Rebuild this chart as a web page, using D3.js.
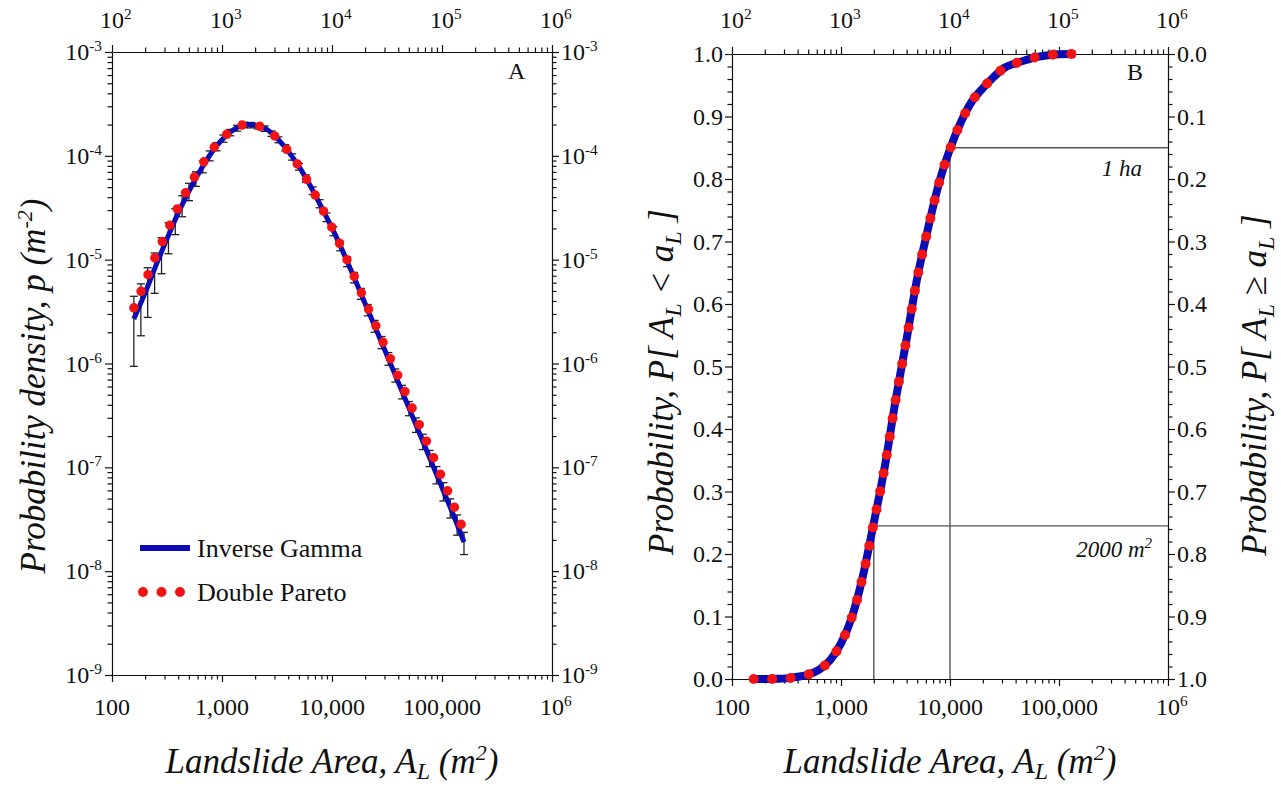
<!DOCTYPE html>
<html>
<head>
<meta charset="utf-8">
<script src="https://cdn.jsdelivr.net/npm/d3@7"></script>
<style>
  body { margin: 0; background: #fff; }
  svg text { font-family: "Liberation Serif", "Times New Roman", serif; fill: #111; }
  .axis .domain, .axis .tick line { stroke: #111; stroke-width: 1.2; }
</style>
</head>
<body>
<svg id="chart" width="1281" height="790"></svg>
<script>
// ---- Panel A: probability density of landslide area ----
const curveArea = [158, 200, 251, 316, 398, 501, 631, 794, 1000, 1259, 1585, 1995, 2512, 3162, 3981,
  5012, 6310, 7943, 10000, 12589, 15849, 19953, 25119, 31623, 39811, 50119, 63096, 79433, 100000, 125893, 158489];

const densityInverseGamma = [2.69e-6, 4.79e-6, 8.81e-6, 1.585e-5, 2.79e-5, 4.57e-5, 7.16e-5, 1.054e-4, 1.429e-4,
  1.770e-4, 1.986e-4, 1.972e-4, 1.816e-4, 1.479e-4, 1.114e-4, 7.87e-5, 5.20e-5, 3.27e-5, 2.02e-5, 1.189e-5,
  6.76e-6, 3.80e-6, 2.14e-6, 1.202e-6, 6.68e-7, 3.72e-7, 2.07e-7, 1.148e-7, 6.38e-8, 3.55e-8, 1.905e-8];

const densityDoublePareto = [3.44e-6, 6.12e-6, 1.102e-5, 1.871e-5, 3.18e-5, 5.07e-5, 7.67e-5, 1.104e-4, 1.466e-4,
  1.786e-4, 2.000e-4, 1.972e-4, 1.816e-4, 1.479e-4, 1.114e-4, 7.87e-5, 5.20e-5, 3.27e-5, 2.03e-5, 1.216e-5,
  7.00e-6, 3.98e-6, 2.29e-6, 1.318e-6, 7.59e-7, 4.37e-7, 2.48e-7, 1.413e-7, 7.94e-8, 4.47e-8, 2.40e-8];

// observed bins with one-sigma error bars
const binArea = [158, 183, 211, 244, 282, 326, 376, 434, 501, 579, 668, 772, 891, 1029, 1189, 1372, 1585, 1830,
  2113, 2441, 2818, 3255, 3758, 4340, 5012, 5788, 6683, 7718, 8913, 10292, 11885, 13725, 15849, 18302, 21135,
  24406, 28184, 32546, 37584, 43401, 50119, 57876, 66834, 77179, 89125, 102920, 118850, 137246, 158489];

const binDensity = [2.69e-6, 3.85e-6, 5.57e-6, 8.17e-6, 1.180e-5, 1.702e-5, 2.42e-5, 3.36e-5, 4.57e-5, 6.05e-5,
  7.89e-5, 1.005e-4, 1.227e-4, 1.469e-4, 1.679e-4, 1.849e-4, 1.986e-4, 1.977e-4, 1.932e-4, 1.832e-4,
  1.637e-4, 1.429e-4, 1.197e-4, 9.77e-5, 7.87e-5, 6.07e-5, 4.63e-5, 3.47e-5, 2.57e-5, 1.888e-5,
  1.361e-5, 9.62e-6, 6.76e-6, 4.72e-6, 3.29e-6, 2.30e-6, 1.603e-6, 1.117e-6, 7.74e-7, 5.36e-7,
  3.72e-7, 2.58e-7, 1.782e-7, 1.236e-7, 8.55e-8, 5.93e-8, 4.11e-8, 2.85e-8, 1.905e-8];

const binSigma = [1.75e-6, 2.0e-6, 2.79e-6, 3.43e-6, 4.48e-6, 5.62e-6, 6.78e-6, 7.7e-6, 8.7e-6, 9.7e-6,
  1.03e-5, 1.1e-5, 1.1e-5, 1.18e-5, 1.18e-5, 1.2e-5, 1.19e-5, 1.19e-5, 1.16e-5, 1.10e-5,
  9.8e-6, 9.3e-6, 8.4e-6, 6.8e-6, 5.9e-6, 4.9e-6, 3.9e-6, 3.1e-6, 2.44e-6, 1.89e-6,
  1.43e-6, 1.06e-6, 7.8e-7, 5.7e-7, 4.1e-7, 3.0e-7, 2.16e-7, 1.56e-7, 1.12e-7, 8.0e-8,
  5.8e-8, 4.1e-8, 3.0e-8, 2.2e-8, 1.62e-8, 1.19e-8, 8.6e-9, 6.3e-9, 4.6e-9];

// ---- Panel B: cumulative probability ----
const cdfArea = [158, 200, 251, 316, 398, 501, 631, 794, 1000, 1259, 1585, 1995, 2512, 3162, 3981,
  5012, 6310, 7943, 10000, 12589, 15849, 19953, 25119, 31623, 39811, 50119, 63096, 79433, 100000, 125893, 141254];
const cdfProbability = [0, 0, 0.0003, 0.001, 0.0035, 0.0072, 0.015, 0.030, 0.057, 0.099, 0.164, 0.249, 0.338,
  0.445, 0.542, 0.642, 0.722, 0.794, 0.848, 0.891, 0.924, 0.945, 0.963, 0.978, 0.985, 0.9905, 0.9955, 0.998,
  0.9996, 1.0, 1.0];

// reference thresholds marked in panel B
const markerArea = [2000, 10000];
const markerProbability = [0.245, 0.85];
const markerLabel = [["2000 m", "2"], ["1 ha", null]];

// tick labels
const decadeExponents = ["2", "3", "4", "5", "6"];
const bottomLabels = ["100", "1,000", "10,000", "100,000", null];
const densityExponents = ["-9", "-8", "-7", "-6", "-5", "-4", "-3"];
const probLabels = ["0.0", "0.1", "0.2", "0.3", "0.4", "0.5", "0.6", "0.7", "0.8", "0.9", "1.0"];
const seriesNames = ["Inverse Gamma", "Double Pareto"];

const BLUE = "#0c0cb4";
const RED = "#f21414";

const svg = d3.select("#chart");

const xA = d3.scaleLog().domain([1e2, 1e6]).range([112, 552]);
const yA = d3.scaleLog().domain([1e-9, 1e-3]).range([675, 52]);
const xB = d3.scaleLog().domain([1e2, 1e6]).range([732, 1168]);
const yB = d3.scaleLinear().domain([0, 1]).range([679, 54]);

const decades = [1e2, 1e3, 1e4, 1e5, 1e6];
const densityDecades = [1e-9, 1e-8, 1e-7, 1e-6, 1e-5, 1e-4, 1e-3];
function logMinor(lo, hi) {
  const out = [];
  for (let e = lo; e < hi; e++) for (let k = 2; k <= 9; k++) out.push(k * Math.pow(10, e));
  return out;
}
const areaMinor = logMinor(2, 6);
const densityMinor = logMinor(-9, -3);
const probMajor = d3.range(0, 11).map(i => i / 10);
const probMinor = d3.range(0, 51).map(i => i / 50).filter(v => Math.abs(v * 10 - Math.round(v * 10)) > 1e-6);

function drawAxis(axisGen, scale, majors, minors, transform) {
  const g = svg.append("g").attr("class", "axis").attr("transform", transform);
  g.call(axisGen(scale).tickValues(majors).tickSize(7).tickSizeOuter(0).tickFormat(""));
  const m = svg.append("g").attr("class", "axis").attr("transform", transform);
  m.call(axisGen(scale).tickValues(minors).tickSize(4.5).tickSizeOuter(0).tickFormat(""));
  m.select(".domain").remove();
}

function powLabel(x, y, exp, anchor, size) {
  const t = svg.append("text").attr("x", x).attr("y", y).attr("text-anchor", anchor).attr("font-size", size);
  t.append("tspan").text("10");
  t.append("tspan").attr("dy", -9).attr("font-size", size * 0.64).text(exp);
  return t;
}

// ---------- Panel A axes ----------
drawAxis(d3.axisBottom, xA, decades, areaMinor, `translate(0,${yA.range()[0]})`);
drawAxis(d3.axisTop, xA, decades, areaMinor, `translate(0,${yA.range()[1]})`);
drawAxis(d3.axisLeft, yA, densityDecades, densityMinor, `translate(${xA.range()[0]},0)`);
drawAxis(d3.axisRight, yA, densityDecades, densityMinor, `translate(${xA.range()[1]},0)`);

// ---------- Panel B axes ----------
drawAxis(d3.axisBottom, xB, decades, areaMinor, `translate(0,${yB.range()[0]})`);
drawAxis(d3.axisTop, xB, decades, areaMinor, `translate(0,${yB.range()[1]})`);
drawAxis(d3.axisLeft, yB, probMajor, probMinor, `translate(${xB.range()[0]},0)`);
drawAxis(d3.axisRight, yB, probMajor, probMinor, `translate(${xB.range()[1]},0)`);

const TICK_FS = 24;
const HALF10 = 12;

// area tick labels (top: powers of ten, bottom: plain numbers)
[[xA], [xB]].forEach(([xs]) => {
  decades.forEach((d, i) => {
    powLabel(xs(d) - HALF10, 28, decadeExponents[i], "start", TICK_FS);
    if (bottomLabels[i]) {
      svg.append("text").attr("x", xs(d)).attr("y", 715).attr("text-anchor", "middle")
        .attr("font-size", TICK_FS).text(bottomLabels[i]);
    } else {
      powLabel(xs(d) - HALF10, 715, decadeExponents[i], "start", TICK_FS);
    }
  });
});

// density tick labels, both sides of panel A
densityDecades.forEach((d, i) => {
  powLabel(xA.range()[0] - 10, yA(d) + 8, densityExponents[i], "end", TICK_FS);
  powLabel(xA.range()[1] + 9, yA(d) + 8, densityExponents[i], "start", TICK_FS);
});

// probability tick labels, panel B (right side is the exceedance probability)
probMajor.forEach((p, i) => {
  svg.append("text").attr("x", xB.range()[0] - 9).attr("y", yB(p) + 8).attr("text-anchor", "end")
    .attr("font-size", TICK_FS).text(probLabels[i]);
  svg.append("text").attr("x", xB.range()[1] + 9).attr("y", yB(p) + 8).attr("text-anchor", "start")
    .attr("font-size", TICK_FS).text(probLabels[10 - i]);
});

// ---------- Panel A marks ----------
const bins = binArea.map((a, i) => ({ a, p: binDensity[i], s: binSigma[i] }));
const eb = svg.append("g").attr("stroke", "#222").attr("stroke-width", 1.3);
bins.forEach(b => {
  const x = xA(b.a), y0 = yA(b.p - b.s), y1 = yA(b.p + b.s);
  eb.append("line").attr("x1", x).attr("x2", x).attr("y1", y0).attr("y2", y1);
  eb.append("line").attr("x1", x - 4).attr("x2", x + 4).attr("y1", y0).attr("y2", y0);
  eb.append("line").attr("x1", x - 4).attr("x2", x + 4).attr("y1", y1).attr("y2", y1);
});

const lineA = d3.line().x(d => xA(d[0])).y(d => yA(d[1])).curve(d3.curveCatmullRom.alpha(0.5));
const igA = curveArea.map((a, i) => [a, densityInverseGamma[i]]);
const dpA = curveArea.map((a, i) => [a, densityDoublePareto[i]]);

svg.append("path").attr("d", lineA(igA)).attr("fill", "none").attr("stroke", BLUE).attr("stroke-width", 5);
svg.append("path").attr("d", lineA(dpA)).attr("fill", "none").attr("stroke", RED).attr("stroke-width", 9.5)
  .attr("stroke-linecap", "round").attr("stroke-dasharray", "0 18");

// legend
svg.append("line").attr("x1", 140).attr("x2", 190).attr("y1", 548).attr("y2", 548)
  .attr("stroke", BLUE).attr("stroke-width", 6);
svg.append("path").attr("d", "M143,592H181").attr("stroke", RED).attr("stroke-width", 10)
  .attr("stroke-linecap", "round").attr("stroke-dasharray", "0 18.5");
svg.append("text").attr("x", 197).attr("y", 557).attr("font-size", 26).text(seriesNames[0]);
svg.append("text").attr("x", 197).attr("y", 601).attr("font-size", 26).text(seriesNames[1]);

svg.append("text").attr("x", 508).attr("y", 79).attr("font-size", 24).text("A");

// ---------- Panel B marks ----------
const mk = svg.append("g").attr("stroke", "#555").attr("stroke-width", 1.4);
markerArea.forEach((a, i) => {
  const x = xB(a), y = yB(markerProbability[i]);
  mk.append("line").attr("x1", x).attr("x2", x).attr("y1", yB(0)).attr("y2", y);
  mk.append("line").attr("x1", x).attr("x2", xB.range()[1]).attr("y1", y).attr("y2", y);
});
// threshold labels
{
  const t1 = svg.append("text").attr("x", 1152).attr("y", 557).attr("text-anchor", "end")
    .attr("font-size", 23).attr("font-style", "italic");
  t1.append("tspan").text(markerLabel[0][0]);
  t1.append("tspan").attr("dy", -9).attr("font-size", 15).text(markerLabel[0][1]);
  svg.append("text").attr("x", 1142).attr("y", 176).attr("text-anchor", "end")
    .attr("font-size", 23).attr("font-style", "italic").text(markerLabel[1][0]);
}

const lineB = d3.line().x(d => xB(d[0])).y(d => yB(d[1])).curve(d3.curveMonotoneX);
const cdf = cdfArea.map((a, i) => [a, cdfProbability[i]]);
svg.append("path").attr("d", lineB(cdf)).attr("fill", "none").attr("stroke", BLUE).attr("stroke-width", 8);
svg.append("path").attr("d", lineB(cdf)).attr("fill", "none").attr("stroke", RED).attr("stroke-width", 10)
  .attr("stroke-linecap", "round").attr("stroke-dasharray", "0 18.5");

svg.append("text").attr("x", 1127).attr("y", 80).attr("font-size", 24).text("B");

// ---------- axis titles ----------
const TITLE_FS = 35;
function areaTitle(cx) {
  const t = svg.append("text").attr("x", cx).attr("y", 773).attr("text-anchor", "middle")
    .attr("font-size", TITLE_FS).attr("font-style", "italic");
  t.append("tspan").text("Landslide Area, A");
  t.append("tspan").attr("dy", 6).attr("font-size", 24).text("L");
  t.append("tspan").attr("dy", -6).text(" (m");
  t.append("tspan").attr("dy", -13).attr("font-size", 22).text("2");
  t.append("tspan").attr("dy", 13).text(")");
}
areaTitle(332);
areaTitle(950);

function vTitle(x, cy, parts) {
  const t = svg.append("text").attr("transform", `translate(${x},${cy}) rotate(-90)`)
    .attr("text-anchor", "middle").attr("font-size", TITLE_FS).attr("font-style", "italic");
  parts.forEach(p => {
    const s = t.append("tspan").text(p.t);
    if (p.dy) s.attr("dy", p.dy);
    if (p.fs) s.attr("font-size", p.fs);
    if (p.st) s.attr("font-style", p.st);
  });
}
vTitle(45, 386, [{ t: "Probability density, p (m" }, { t: "-2", dy: -13, fs: 22 }, { t: ")", dy: 13 }]);
vTitle(673, 382, [{ t: "Probability, P[ A" }, { t: "L", dy: 8, fs: 24 }, { t: " < a", dy: -8 },
  { t: "L", dy: 8, fs: 24 }, { t: " ]", dy: -8 }]);
vTitle(1266, 385, [{ t: "Probability, P[ A" }, { t: "L", dy: 8, fs: 24 }, { t: " \u2265 ", dy: -8, st: "normal" },
  { t: "a" }, { t: "L", dy: 8, fs: 24 }, { t: " ]", dy: -8 }]);
</script>
</body>
</html>
